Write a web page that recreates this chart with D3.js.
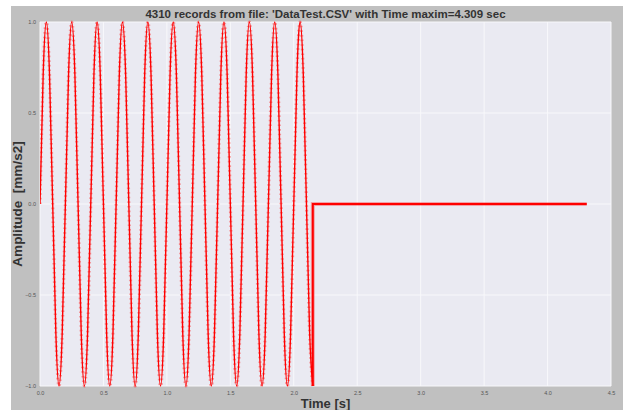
<!DOCTYPE html>
<html>
<head>
<meta charset="utf-8">
<script src="https://cdn.jsdelivr.net/npm/d3@7"></script>
<style>
  html, body { margin: 0; padding: 0; background: #ffffff; }
  svg { display: block; }
  text.keep-space { white-space: pre; }
</style>
</head>
<body>
<svg id="chart" width="624" height="410"></svg>
<script>
// Signal samples read every 0.025 s over the 5 Hz burst (amplitude in mm/s2)
const burstTimes = [
  0.000, 0.025, 0.050, 0.075, 0.100, 0.125, 0.150, 0.175,
  0.200, 0.225, 0.250, 0.275, 0.300, 0.325, 0.350, 0.375,
  0.400, 0.425, 0.450, 0.475, 0.500, 0.525, 0.550, 0.575,
  0.600, 0.625, 0.650, 0.675, 0.700, 0.725, 0.750, 0.775,
  0.800, 0.825, 0.850, 0.875, 0.900, 0.925, 0.950, 0.975,
  1.000, 1.025, 1.050, 1.075, 1.100, 1.125, 1.150, 1.175,
  1.200, 1.225, 1.250, 1.275, 1.300, 1.325, 1.350, 1.375,
  1.400, 1.425, 1.450, 1.475, 1.500, 1.525, 1.550, 1.575,
  1.600, 1.625, 1.650, 1.675, 1.700, 1.725, 1.750, 1.775,
  1.800, 1.825, 1.850, 1.875, 1.900, 1.925, 1.950, 1.975,
  2.000, 2.025, 2.050, 2.075, 2.100, 2.125, 2.150
];
const burstValues = [
  0.00, 0.71, 1.00, 0.71, 0.00, -0.71, -1.00, -0.71,
  0.00, 0.71, 1.00, 0.71, 0.00, -0.71, -1.00, -0.71,
  0.00, 0.71, 1.00, 0.71, 0.00, -0.71, -1.00, -0.71,
  0.00, 0.71, 1.00, 0.71, 0.00, -0.71, -1.00, -0.71,
  0.00, 0.71, 1.00, 0.71, 0.00, -0.71, -1.00, -0.71,
  0.00, 0.71, 1.00, 0.71, 0.00, -0.71, -1.00, -0.71,
  0.00, 0.71, 1.00, 0.71, 0.00, -0.71, -1.00, -0.71,
  0.00, 0.71, 1.00, 0.71, 0.00, -0.71, -1.00, -0.71,
  0.00, 0.71, 1.00, 0.71, 0.00, -0.71, -1.00, -0.71,
  0.00, 0.71, 1.00, 0.71, 0.00, -0.71, -1.00, -0.71,
  0.00, 0.71, 1.00, 0.71, 0.00, -0.71, -1.00
];
// Quiet tail after the burst
const tailTimes = [2.150, 2.150, 4.309];
const tailValues = [-1.00, 0.00, 0.00];

const xTicks = [0.0, 0.5, 1.0, 1.5, 2.0, 2.5, 3.0, 3.5, 4.0, 4.5];
const yTicks = [-1.0, -0.5, 0.0, 0.5, 1.0];
const titleText = "4310 records from file: 'DataTest.CSV' with Time maxim=4.309 sec";
const xLabel = "Time [s]";
const yLabel = "Amplitude  [mm/s2]";

const svg = d3.select("#chart");

// Grey frame
svg.append("rect")
  .attr("x", 11).attr("y", 6)
  .attr("width", 612).attr("height", 404)
  .attr("fill", "#c0c0c0");

const plot = { left: 40, right: 611, top: 22, bottom: 386 };

const x = d3.scaleLinear().domain([0, 4.5]).range([plot.left, plot.right]);
const y = d3.scaleLinear().domain([-1, 1]).range([plot.bottom, plot.top]);

// Plot background
svg.append("rect")
  .attr("x", plot.left).attr("y", plot.top)
  .attr("width", plot.right - plot.left)
  .attr("height", plot.bottom - plot.top)
  .attr("fill", "#eaeaf2");

// White grid
const grid = svg.append("g");
grid.selectAll("line.vx").data(xTicks).join("line")
  .attr("x1", d => x(d)).attr("x2", d => x(d))
  .attr("y1", plot.top).attr("y2", plot.bottom)
  .attr("stroke", "#f8f8fb").attr("stroke-width", 1);
grid.selectAll("line.hy").data(yTicks).join("line")
  .attr("x1", plot.left).attr("x2", plot.right)
  .attr("y1", d => y(d)).attr("y2", d => y(d))
  .attr("stroke", "#f8f8fb").attr("stroke-width", 1);

// Axes (labels only, no domain lines)
const xAxis = d3.axisBottom(x).tickValues(xTicks).tickSize(0).tickPadding(5)
  .tickFormat(d3.format(".1f"));
const yAxis = d3.axisLeft(y).tickValues(yTicks).tickSize(0).tickPadding(4)
  .tickFormat(d3.format(".1f"));

const gx = svg.append("g").attr("transform", `translate(0,${plot.bottom})`).call(xAxis);
const gy = svg.append("g").attr("transform", `translate(${plot.left},0)`).call(yAxis);
[gx, gy].forEach(g => {
  g.select(".domain").remove();
  g.selectAll("text")
    .attr("font-family", "Liberation Sans, Arial, sans-serif")
    .attr("font-size", 5.5)
    .attr("fill", "#555555");
});

const burst = burstTimes.map((t, i) => [t, burstValues[i]]);
const tail = tailTimes.map((t, i) => [t, tailValues[i]]);

const smoothLine = d3.line().x(d => x(d[0])).y(d => y(d[1])).curve(d3.curveNatural);
const straightLine = d3.line().x(d => x(d[0])).y(d => y(d[1]));

svg.append("clipPath").attr("id", "plotclip")
  .append("rect")
  .attr("x", plot.left).attr("y", plot.top - 2)
  .attr("width", plot.right - plot.left)
  .attr("height", plot.bottom - plot.top + 4);

const series = svg.append("g").attr("clip-path", "url(#plotclip)");

// Marker halo along the sampled trace
series.append("path")
  .attr("d", smoothLine(burst))
  .attr("fill", "none")
  .attr("stroke", "rgba(255,0,0,0.35)")
  .attr("stroke-width", 3.2)
  .attr("stroke-dasharray", "1.6 3");
series.append("path")
  .attr("d", straightLine(tail))
  .attr("fill", "none")
  .attr("stroke", "rgba(255,0,0,0.3)")
  .attr("stroke-width", 4);

// Main trace
series.append("path")
  .attr("d", smoothLine(burst))
  .attr("fill", "none")
  .attr("stroke", "#ff0000")
  .attr("stroke-width", 1.4);
series.append("path")
  .attr("d", straightLine(tail))
  .attr("fill", "none")
  .attr("stroke", "#ff0000")
  .attr("stroke-width", 2);

// Title and axis labels
svg.append("text")
  .attr("x", (plot.left + plot.right) / 2).attr("y", 18)
  .attr("text-anchor", "middle")
  .attr("font-family", "Liberation Sans, Arial, sans-serif")
  .attr("font-weight", "bold")
  .attr("font-size", 11.5)
  .attr("fill", "#333333")
  .text(titleText);

svg.append("text")
  .attr("x", (plot.left + plot.right) / 2).attr("y", 408)
  .attr("text-anchor", "middle")
  .attr("font-family", "Liberation Sans, Arial, sans-serif")
  .attr("font-weight", "bold")
  .attr("font-size", 13)
  .attr("fill", "#333333")
  .text(xLabel);

svg.append("text")
  .attr("class", "keep-space")
  .attr("transform", `translate(22,${(plot.top + plot.bottom) / 2}) rotate(-90)`)
  .attr("text-anchor", "middle")
  .attr("font-family", "Liberation Sans, Arial, sans-serif")
  .attr("font-weight", "bold")
  .attr("font-size", 13.5)
  .attr("fill", "#333333")
  .text(yLabel);
</script>
</body>
</html>
